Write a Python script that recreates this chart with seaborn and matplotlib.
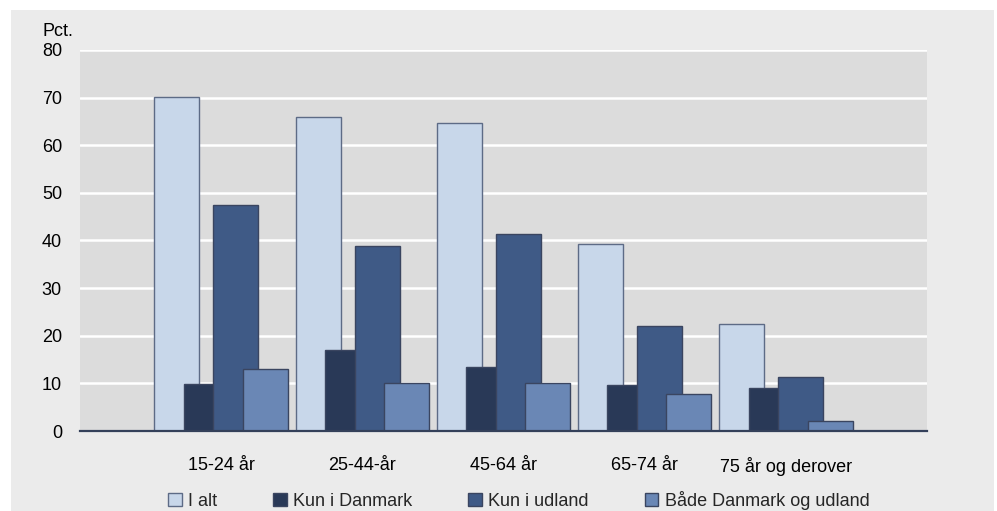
import matplotlib
matplotlib.use("Agg")
import matplotlib.pyplot as plt
import matplotlib.patches as mpatches
import seaborn as sns
import pandas as pd

categories = ["15-24 år", "25-44-år", "45-64 år", "65-74 år", "75 år og derover"]
series = ["I alt", "Kun i Danmark", "Kun i udland", "Både Danmark og udland"]
i_alt = [70.2, 66.0, 64.7, 39.3, 22.4]
kun_danmark = [9.8, 17.0, 13.5, 9.7, 9.1]
kun_udland = [47.5, 38.9, 41.3, 22.1, 11.4]
begge = [13.0, 10.1, 10.0, 7.8, 2.2]
yticks = [0, 10, 20, 30, 40, 50, 60, 70, 80]
colors = ["#c8d7ea", "#293957", "#3f5a86", "#6a87b5"]

values = [i_alt, kun_danmark, kun_udland, begge]
rows = []
for s, vals in zip(series, values):
    for c, v in zip(categories, vals):
        rows.append({"cat": c, "serie": s, "val": v})
df = pd.DataFrame(rows)

sns.set_theme(style="white")
plt.rcParams["font.family"] = ["Liberation Sans", "DejaVu Sans"]

W, H = 997, 511
fig = plt.figure(figsize=(W / 100, H / 100), dpi=100)
fig.patch.set_facecolor("white")
# light gray frame background
fig.patches.append(mpatches.Rectangle((11 / W, 0), (994 - 11) / W, (H - 10) / H,
                                      transform=fig.transFigure, facecolor="#ebebeb",
                                      edgecolor="none", zorder=-10))

ax_left, ax_right = 80 / W, 927 / W
ax_bottom = (H - 431) / H
ax_top = (H - 50) / H
ax = fig.add_axes([ax_left, ax_bottom, ax_right - ax_left, ax_top - ax_bottom])
ax.set_facecolor("#dcdcdc")

sns.barplot(data=df, x="cat", y="val", hue="serie", order=categories, hue_order=series,
            palette=colors, dodge=True, width=0.836, edgecolor="#3a4560", linewidth=1.0,
            saturation=1, ax=ax, legend=False, zorder=3)

bw = 0.319
for cont in ax.containers:
    for p in cont:
        cx = p.get_x() + p.get_width() / 2
        p.set_width(bw)
        p.set_x(cx - bw / 2)
for p in ax.containers[0]:
    p.set_edgecolor("#5d6b86")

ax.set_xlim(-1, 5)
ax.set_ylim(0, 80)
ax.set_yticks(yticks)
ax.set_yticklabels([str(t) for t in yticks])
ax.yaxis.grid(True, color="white", linewidth=1.8, zorder=0)
ax.set_axisbelow(True)
ax.tick_params(axis="y", length=0, pad=13, labelsize=13, colors="black")
ax.tick_params(axis="x", length=0, pad=19, labelsize=13, colors="black")
ax.set_xlabel("")
ax.set_ylabel("")
for s in ["top", "left", "right"]:
    ax.spines[s].set_visible(False)
ax.spines["bottom"].set_color("#34405a")
ax.spines["bottom"].set_linewidth(1.6)
ax.spines["bottom"].set_zorder(5)

fig.text(43 / W, (H - 36) / H, "Pct.", fontsize=13, ha="left", va="baseline", color="black")

handles = [mpatches.Patch(facecolor=c, edgecolor="#3a4560", linewidth=1.0) for c in colors]
handles[0].set_edgecolor("#5d6b86")
fig.legend(handles, series, loc="center left", bbox_to_anchor=(168 / W, (H - 500) / H),
           ncol=4, frameon=False, fontsize=13, handlelength=0.75, handleheight=0.75,
           handletextpad=0.35, columnspacing=3.11, borderpad=0, borderaxespad=0)

fig.savefig("out.png", dpi=100, facecolor=fig.get_facecolor())
